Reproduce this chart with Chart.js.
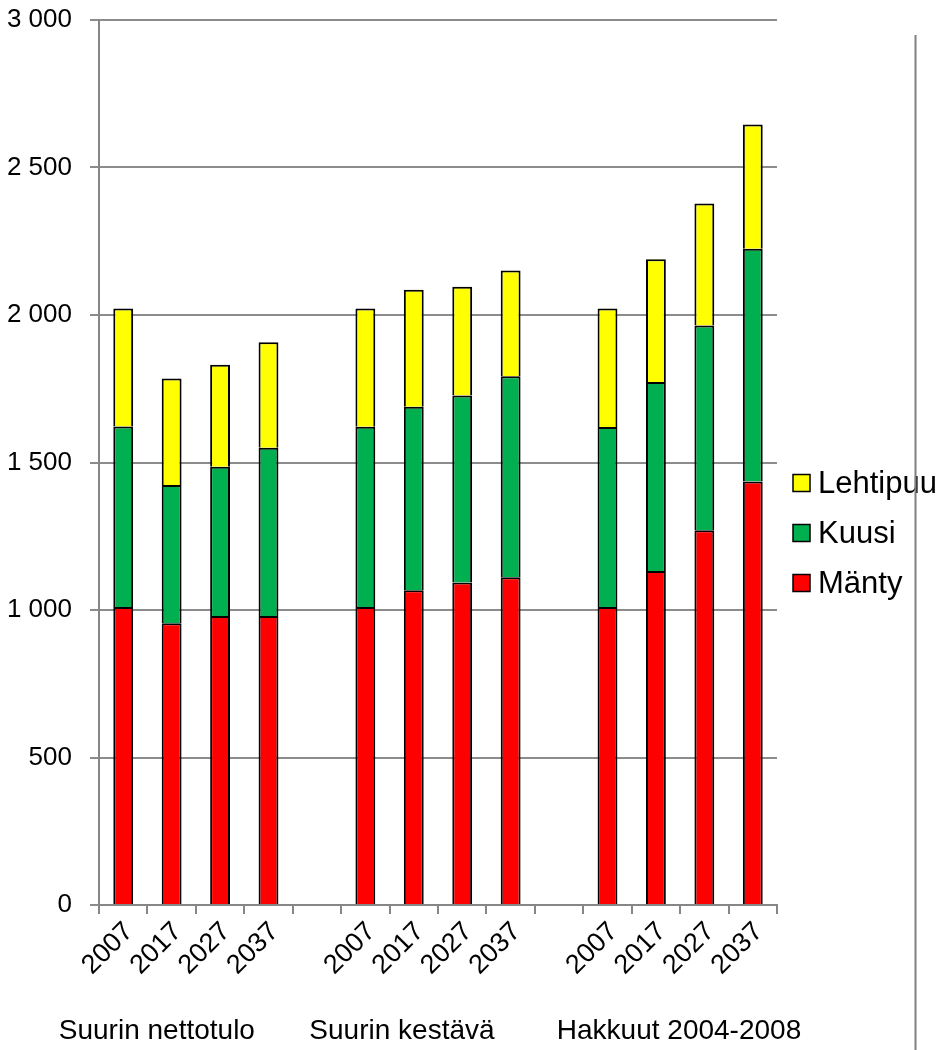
<!DOCTYPE html>
<html>
<head>
<meta charset="utf-8">
<title>Hakkuut</title>
<style>
body { margin: 0; background: #ffffff; }
</style>
</head>
<body>
<canvas id="hakkuuChart" width="941" height="1050"></canvas>

<script src="https://cdn.jsdelivr.net/npm/chart.js"></script>

<script>

const vuodet = [
    '2007', '2017', '2027', '2037', '',
    '2007', '2017', '2027', '2037', '',
    '2007', '2017', '2027', '2037'
];

const manty = [1010, 955, 980, 980, null, 1010, 1067, 1093, 1111, null, 1010, 1132, 1270, 1436];
const kuusi = [612, 469, 506, 570, null, 611, 622, 634, 681, null, 610, 641, 694, 789];
const lehtipuu = [400, 361, 345, 358, null, 401, 397, 369, 359, null, 402, 416, 414, 421];

const ryhmat = 'Suurin nettotulo       Suurin kestävä        Hakkuut 2004-2008';

const fontti = "'Liberation Sans', Arial, sans-serif";

// selite ja ryhmien nimet piirretään itse, jotta ne osuvat samaan kohtaan kuin mallissa
const selite = {
    id: 'selite',
    afterDraw(chart) {
        const ctx = chart.ctx;
        const alue = chart.chartArea;
        const sarjat = chart.data.datasets.slice().reverse();
        const x = alue.right + 16;
        let y = 483;
        ctx.save();
        ctx.font = '31px ' + fontti;
        ctx.textBaseline = 'middle';
        sarjat.forEach(function(s) {
            ctx.fillStyle = s.backgroundColor;
            ctx.fillRect(x, y - 8.5, 17, 17);
            ctx.lineWidth = 1.5;
            ctx.strokeStyle = '#000000';
            ctx.strokeRect(x, y - 8.5, 17, 17);
            ctx.fillStyle = '#000000';
            ctx.fillText(s.label, x + 25, y + 1);
            y += 50;
        });

        // ryhmien nimet akselin alle
        ctx.font = '28px ' + fontti;
        ctx.textAlign = 'center';
        ctx.fillText(ryhmat, (alue.left + alue.right) / 2 - 8, 1031);

        // kehyksen oikea reuna
        ctx.beginPath();
        ctx.strokeStyle = '#808080';
        ctx.lineWidth = 2;
        ctx.moveTo(915.5, 35);
        ctx.lineTo(915.5, 1050);
        ctx.stroke();
        ctx.restore();
    }
};

new Chart(document.getElementById('hakkuuChart'), {

    type: 'bar',

    data: {
        labels: vuodet,
        datasets: [
            {
                label: 'Mänty',
                data: manty,
                backgroundColor: '#ff0000',
                borderColor: '#000000',
                borderWidth: 2
            },
            {
                label: 'Kuusi',
                data: kuusi,
                backgroundColor: '#00b050',
                borderColor: '#000000',
                borderWidth: 2
            },
            {
                label: 'Lehtipuu',
                data: lehtipuu,
                backgroundColor: '#ffff00',
                borderColor: '#000000',
                borderWidth: 2
            }
        ]
    },

    plugins: [selite],

    options: {

        responsive: false,
        animation: false,

        categoryPercentage: 1,
        barPercentage: 0.41,

        layout: {
            padding: { top: 20, right: 164, bottom: 0, left: 0 }
        },

        plugins: {
            legend: { display: false },
            tooltip: { enabled: false }
        },

        scales: {

            x: {
                stacked: true,
                grid: {
                    offset: true,
                    drawOnChartArea: false,
                    drawTicks: true,
                    tickLength: 9,
                    color: '#868686',
                    lineWidth: 2
                },
                border: { color: '#868686', width: 2 },
                ticks: {
                    autoSkip: false,
                    maxRotation: 45,
                    minRotation: 45,
                    padding: 2,
                    labelOffset: 6,
                    color: '#000000',
                    font: { family: fontti, size: 27 }
                },
                afterFit: function(scale) {
                    scale.height = 145;
                }
            },

            y: {
                stacked: true,
                min: 0,
                max: 3000,
                grid: {
                    color: '#8c8c8c',
                    lineWidth: 2,
                    tickLength: 9
                },
                border: { color: '#868686', width: 2 },
                ticks: {
                    stepSize: 500,
                    padding: 18,
                    color: '#000000',
                    font: { family: fontti, size: 26 },
                    callback: function(value) {
                        return String(value).replace(/\B(?=(\d{3})+(?!\d))/g, ' ');
                    }
                },
                afterFit: function(scale) {
                    scale.width = 99;
                    scale.paddingTop = 0;
                    scale.paddingBottom = 0;
                }
            }

        }

    }

});

</script>
</body>
</html>
